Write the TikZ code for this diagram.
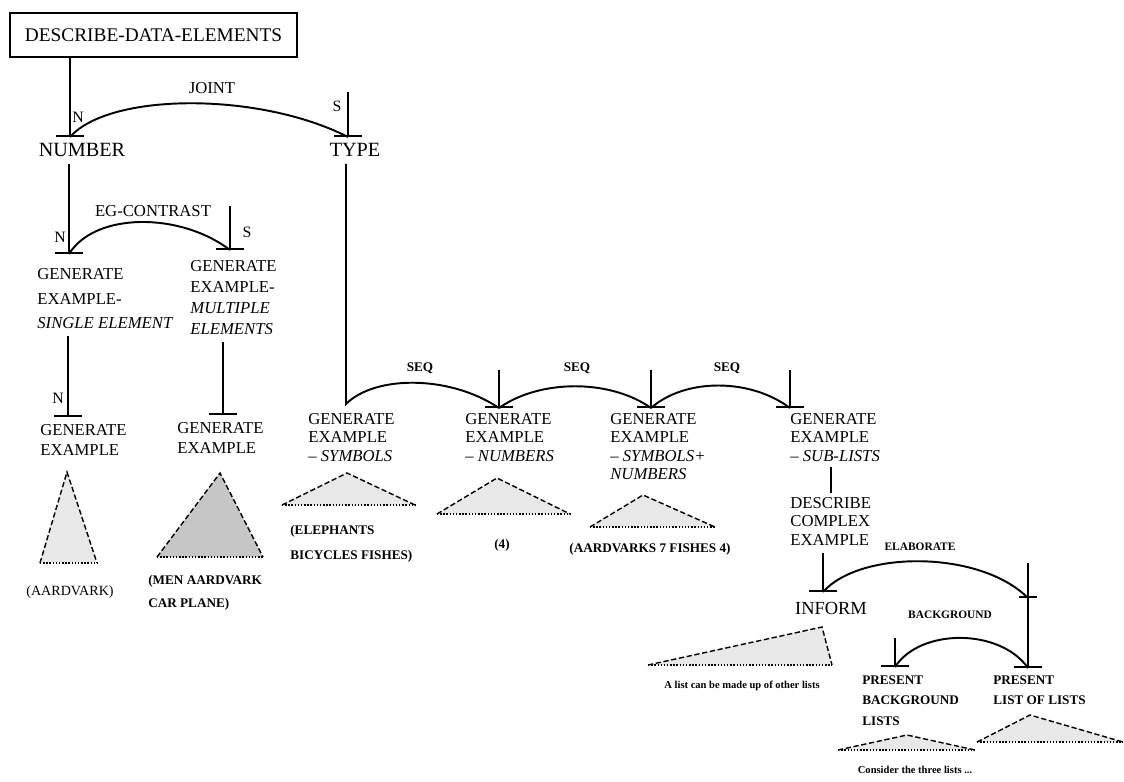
\documentclass[tikz,border=0pt]{standalone}
\usepackage{fontspec}
\setmainfont{Liberation Serif}
\usetikzlibrary{arrows.meta}
\tikzset{
  box/.style = {draw, line width = 1.2pt, minimum width = 5.74cm, minimum height = 0.88cm, inner sep = 0pt, font = \fontsize{11}{13}\selectfont},
  big/.style = {inner sep = 0pt, font = \fontsize{11.5}{13}\selectfont},
  gen/.style = {inner sep = 0pt, anchor = north west, align = left, font = \fontsize{9.5}{10.5}\selectfont},
  rel/.style = {inner sep = 0pt, font = \fontsize{9.5}{11}\selectfont},
  seq/.style = {inner sep = 0pt, font = \bfseries\fontsize{7.5}{9}\selectfont},
  role/.style = {inner sep = 0pt, font = \fontsize{9}{10}\selectfont},
  eg/.style = {inner sep = 0pt, align = left, font = \bfseries\fontsize{7.5}{13}\selectfont},
  note/.style = {inner sep = 0pt, font = \bfseries\fontsize{6}{7}\selectfont},
  tee/.style = {line width = 1.1pt, -{Bar[width = 5.6mm]}},
  drop/.style = {tee, shorten <= 4pt},
  link/.style = {line width = 1.1pt},
  subtree/.style = {fill = gray!18, line width = 0.8pt, dash pattern = on 3pt off 1.5pt},
  treebase/.style = {line width = 0.8pt, dash pattern = on 0.8pt off 1pt}
}
\begin{document}
\begin{tikzpicture}[x = 0.02cm, y = -0.02cm]
    \useasboundingbox (0, 0) rectangle (1124, 781);

    \node [box] (title) at (153.5, 35) {DESCRIBE-DATA-ELEMENTS};
    \node [big] (number) at (82, 150) {NUMBER};
    \node [big] (type) at (355, 150) {TYPE};
    \coordinate (numberbar) at (70, 137);
    \coordinate (typetop) at (348, 92);
    \coordinate (typebar) at (348, 137);
    \draw [tee] (title.south -| numberbar) -- (numberbar);
    \draw [tee] (typetop) -- (typebar);
    \draw [link] (numberbar) .. controls (110, 92) and (260, 92) .. (typebar);
    \node [rel] (joint) at (212, 88) {JOINT};
    \node [role] (numbern) at (78, 117) {N};
    \node [role] (types) at (337, 106) {S};

    \node [gen, font = \fontsize{9.5}{14}\selectfont] (single) at (37, 268) {GENERATE\\EXAMPLE-\\\textit{SINGLE ELEMENT}};
    \node [gen, font = \fontsize{9.5}{12}\selectfont] (multi) at (190, 260) {GENERATE\\EXAMPLE-\\\textit{MULTIPLE}\\\textit{ELEMENTS}};
    \coordinate (singlebar) at (69, 254);
    \coordinate (multitop) at (230, 206);
    \coordinate (multibar) at (230, 250);
    \draw [drop] (number.south -| singlebar) -- (singlebar);
    \draw [tee] (multitop) -- (multibar);
    \draw [link] (singlebar) .. controls (95, 212) and (180, 212) .. (multibar);
    \node [rel] (egcontrast) at (153, 211) {EG-CONTRAST};
    \node [role] (singlen) at (60, 237) {N};
    \node [role] (multis) at (247, 232) {S};

    \node [gen, font = \fontsize{9.5}{11.3}\selectfont] (geleft) at (40, 424) {GENERATE\\EXAMPLE};
    \node [gen, font = \fontsize{9.5}{11.3}\selectfont] (geright) at (177, 422) {GENERATE\\EXAMPLE};
    \coordinate (geleftbar) at (68, 417);
    \coordinate (gerightbar) at (223, 415);
    \draw [drop] (single.south -| geleftbar) -- (geleftbar);
    \draw [drop] (multi.south -| gerightbar) -- (gerightbar);
    \node [role] (geleftn) at (58, 398) {N};
    \draw [subtree] (40, 563) -- (67, 472) -- (97, 563);
    \draw [treebase] (40, 563) -- (97, 563);
    \draw [subtree, fill = gray!45] (157, 557) -- (220, 473) -- (263, 557);
    \draw [treebase] (157, 557) -- (263, 557);
    \node [eg, font = \fontsize{8}{10}\selectfont] (aardvark) at (70, 592) {(AARDVARK)};
    \node [eg, anchor = north west] (men) at (148, 575) {(MEN AARDVARK\\CAR PLANE)};

    \node [gen] (gsym) at (308, 413) {GENERATE\\EXAMPLE\\-- \textit{SYMBOLS}};
    \node [gen] (gnum) at (465, 413) {GENERATE\\EXAMPLE\\-- \textit{NUMBERS}};
    \node [gen] (gsymnum) at (610, 413) {GENERATE\\EXAMPLE\\-- \textit{SYMBOLS+}\\\textit{NUMBERS}};
    \node [gen] (gsub) at (790, 413) {GENERATE\\EXAMPLE\\-- \textit{SUB-LISTS}};
    \coordinate (symstart) at (346, 404);
    \coordinate (numtop) at (499, 370);
    \coordinate (numbar) at (499, 408);
    \coordinate (symnumtop) at (651, 370);
    \coordinate (symnumbar) at (651, 408);
    \coordinate (subtop) at (790, 370);
    \coordinate (subbar) at (790, 408);
    \draw [link] ([yshift = -4pt] type.south -| symstart) -- (symstart) .. controls (375, 375) and (450, 375) .. (numbar);
    \draw [tee] (numtop) -- (numbar);
    \draw [tee] (symnumtop) -- (symnumbar);
    \draw [tee] (subtop) -- (subbar);
    \draw [link] (numbar) .. controls (540, 379) and (610, 379) .. (symnumbar);
    \draw [link] (symnumbar) .. controls (685, 378) and (750, 378) .. (subbar);
    \node [seq] (seqa) at (420, 368) {SEQ};
    \node [seq] (seqb) at (577, 368) {SEQ};
    \node [seq] (seqc) at (727, 368) {SEQ};
    \draw [subtree] (282, 505) -- (347, 473) -- (415, 505);
    \draw [treebase] (282, 505) -- (415, 505);
    \draw [subtree] (437, 514) -- (497, 478) -- (570, 514);
    \draw [treebase] (437, 514) -- (570, 514);
    \draw [subtree] (590, 527) -- (643, 495) -- (715, 527);
    \draw [treebase] (590, 527) -- (715, 527);
    \node [eg, anchor = north west, font = \bfseries\fontsize{7.5}{14}\selectfont] (elephants) at (290, 525) {(ELEPHANTS\\BICYCLES FISHES)};
    \node [eg] (four) at (502, 545) {(4)};
    \node [eg] (aardvarks) at (650, 549) {(AARDVARKS 7 FISHES 4)};

    \node [gen] (complex) at (790, 497) {DESCRIBE\\COMPLEX\\EXAMPLE};
    \draw [link, shorten <= 3pt, shorten >= 2pt] (gsub.south -| complex.north) -- (complex.north);
    \node [big, font = \fontsize{10.5}{12}\selectfont] (inform) at (831, 608) {INFORM};
    \coordinate (informbar) at (823, 592);
    \coordinate (elabtop) at (1028, 563);
    \coordinate (elabbar) at (1028, 598);
    \coordinate (listsbar) at (1028, 668);
    \coordinate (bgtop) at (895, 638);
    \coordinate (bgbar) at (895, 667);
    \draw [drop] (complex.south -| informbar) -- (informbar);
    \draw [tee, -{Bar[width = 3.6mm]}] (elabtop) -- (elabbar);
    \draw [tee] (elabbar) -- (listsbar);
    \draw [tee] (bgtop) -- (bgbar);
    \draw [link] (informbar) .. controls (860, 550) and (980, 550) .. (elabbar);
    \draw [link] (listsbar) .. controls (1000, 628) and (920, 628) .. (bgbar);
    \node [note, font = \bfseries\fontsize{6.5}{8}\selectfont] (elaborate) at (920, 547) {ELABORATE};
    \node [note, font = \bfseries\fontsize{6.5}{8}\selectfont] (background) at (950, 615) {BACKGROUND};
    \node [eg, anchor = north west, font = \bfseries\fontsize{7.5}{11.9}\selectfont] (presentbg) at (862, 675) {PRESENT\\BACKGROUND\\LISTS};
    \node [eg, anchor = north west, font = \bfseries\fontsize{7.5}{11.9}\selectfont] (presentlol) at (993, 675) {PRESENT\\LIST OF LISTS};
    \draw [subtree] (648, 665) -- (822, 627) -- (832, 665);
    \draw [treebase] (648, 665) -- (832, 665);
    \node [note] (madeup) at (742, 686) {A list can be made up of other lists};
    \draw [subtree] (838, 750) -- (907, 735) -- (975, 750);
    \draw [treebase] (838, 750) -- (975, 750);
    \draw [subtree] (977, 742) -- (1030, 715) -- (1123, 742);
    \draw [treebase] (977, 742) -- (1123, 742);
    \node [note] (consider) at (915, 770) {Consider the three lists ...};
  \end{tikzpicture}
\end{document}
